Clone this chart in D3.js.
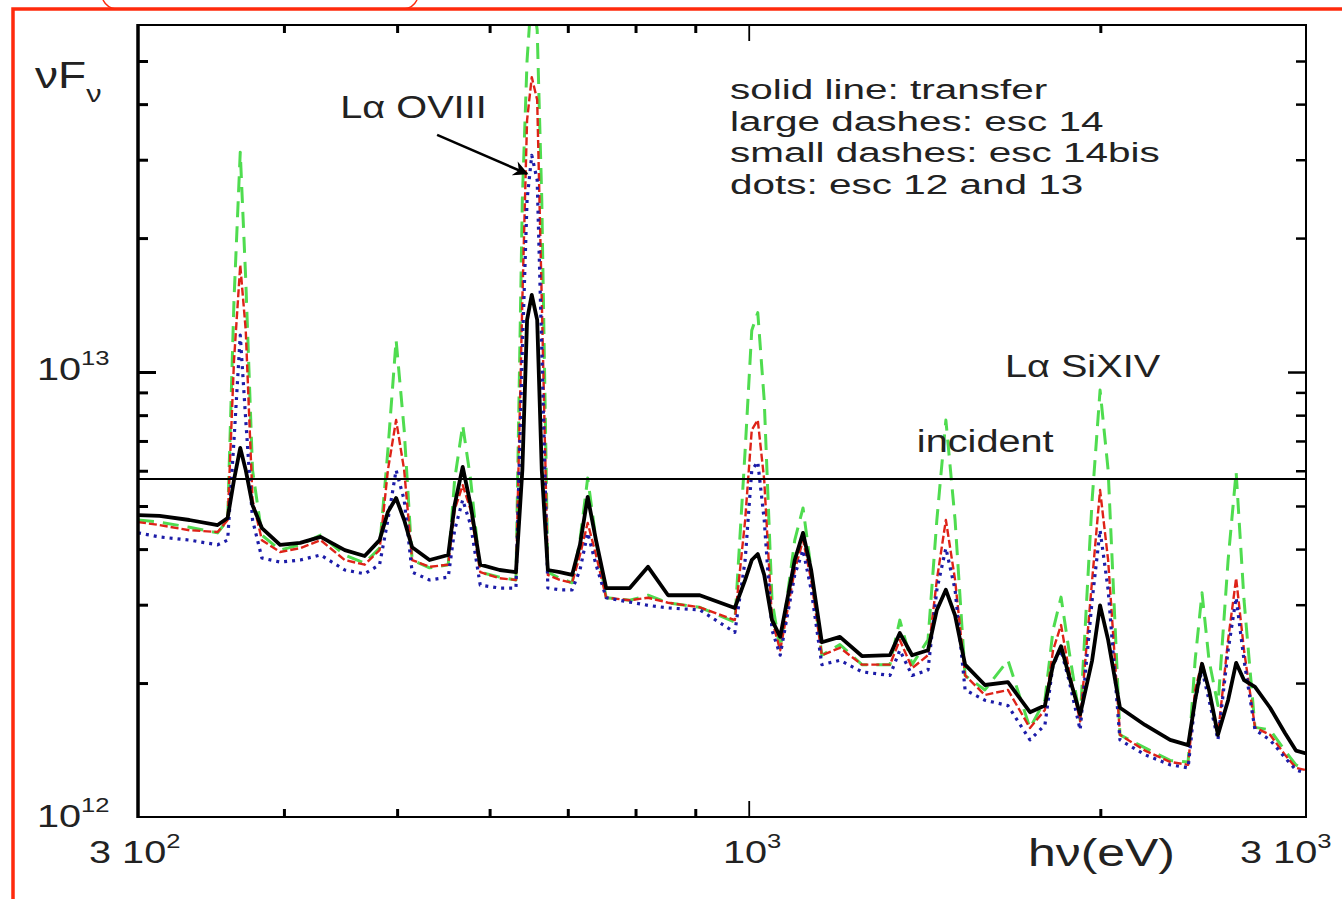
<!DOCTYPE html>
<html>
<head>
<meta charset="utf-8">
<script src="https://cdnjs.cloudflare.com/ajax/libs/d3/7.8.5/d3.min.js"></script>
<style>
  body { margin: 0; background: #fff; }
  svg { display: block; font-family: "Liberation Sans", Arial, sans-serif; }
</style>
</head>
<body>
<svg id="chart" width="1342" height="899"></svg>
<script>
// photon energy h nu (eV), shared grid for every spectrum
const energy = [300, 313, 332, 351, 358, 362.5, 367, 371, 376, 383, 397, 413, 430, 451, 469, 483,
  491, 499, 507, 515, 533, 553, 560, 569, 578, 589, 612, 632, 640, 646, 652, 659, 665, 673, 689,
  706, 717, 728, 740, 755, 791, 820, 853, 908, 973, 993, 1006, 1018, 1031, 1047, 1064, 1095, 1113,
  1131, 1155, 1197, 1250, 1321, 1347, 1380, 1424, 1449, 1475, 1502, 1532, 1593, 1667, 1741, 1793,
  1822, 1851, 1880, 1922, 1968, 1999, 2031, 2079, 2184, 2295, 2378, 2411, 2444, 2478, 2522, 2573,
  2614, 2655, 2713, 2795, 2878, 2941, 3000];

// nu F_nu in units of 1e12
const transfer = [4.77, 4.75, 4.65, 4.53, 4.70, 5.72, 6.75, 6.02, 5.02, 4.46, 4.09, 4.13, 4.26, 3.98,
  3.86, 4.19, 4.85, 5.21, 4.65, 4.04, 3.78, 3.88, 5.02, 6.12, 5.02, 3.69, 3.59, 3.55, 6.02, 13.1,
  14.9, 13.1, 6.02, 3.59, 3.55, 3.50, 4.09, 5.24, 4.19, 3.27, 3.27, 3.65, 3.15, 3.15, 2.95, 3.41,
  3.78, 3.90, 3.50, 2.77, 2.54, 3.78, 4.35, 3.59, 2.47, 2.54, 2.30, 2.31, 2.59, 2.31, 2.37, 2.92,
  3.24, 2.84, 2.20, 1.98, 2.01, 1.72, 1.78, 2.20, 2.42, 2.08, 1.70, 2.25, 2.99, 2.50, 1.76, 1.61,
  1.49, 1.45, 1.83, 2.21, 1.93, 1.53, 1.83, 2.22, 2.03, 1.96, 1.76, 1.545, 1.41, 1.39];

const esc14 = [4.65, 4.60, 4.48, 4.35, 4.65, 14.5, 31.2, 16.1, 6.02, 4.30, 3.98, 4.09, 4.30, 3.88,
  3.72, 4.02, 6.68, 11.8, 7.41, 3.78, 3.63, 3.69, 5.72, 7.60, 5.72, 3.55, 3.46, 3.41, 24.4, 50.2,
  72.0, 58.7, 24.4, 3.55, 3.44, 3.36, 4.19, 5.78, 4.19, 3.11, 3.07, 3.15, 3.03, 2.96, 2.74, 6.68,
  12.4, 13.6, 8.65, 3.07, 2.37, 4.19, 4.95, 3.59, 2.31, 2.44, 2.20, 2.20, 2.77, 2.20, 2.50, 4.65,
  7.80, 4.65, 2.08, 1.93, 2.25, 1.585, 1.83, 2.63, 3.12, 2.37, 1.65, 5.16, 9.11, 6.02, 1.53, 1.43,
  1.34, 1.33, 2.25, 3.19, 2.25, 1.78, 3.78, 5.96, 3.07, 1.59, 1.57, 1.41, 1.31, 1.275];

const esc14bis = [4.60, 4.53, 4.41, 4.37, 4.65, 10.6, 17.4, 12.4, 5.16, 4.19, 3.94, 4.02, 4.19, 3.78,
  3.69, 3.98, 6.02, 7.80, 6.02, 3.78, 3.65, 3.69, 4.90, 5.57, 4.90, 3.55, 3.44, 3.41, 14.5, 36.8,
  46.0, 40.9, 14.5, 3.50, 3.41, 3.36, 3.88, 4.58, 3.88, 3.11, 3.07, 3.11, 3.03, 2.96, 2.77, 4.65,
  7.41, 7.80, 5.72, 2.77, 2.37, 3.59, 4.19, 3.41, 2.31, 2.40, 2.20, 2.20, 2.50, 2.16, 2.31, 3.41,
  4.65, 3.41, 2.08, 1.88, 1.93, 1.585, 1.74, 2.37, 2.70, 2.14, 1.64, 3.41, 5.43, 3.78, 1.53, 1.41,
  1.33, 1.31, 1.93, 2.23, 1.93, 1.53, 2.50, 3.44, 2.37, 1.59, 1.53, 1.38, 1.29, 1.275];

const esc12_13 = [4.35, 4.26, 4.19, 4.09, 4.19, 7.03, 12.1, 7.80, 4.65, 3.82, 3.74, 3.78, 3.88, 3.59,
  3.52, 3.69, 4.65, 6.02, 5.16, 3.55, 3.41, 3.46, 4.41, 5.16, 4.53, 3.32, 3.27, 3.27, 11.2, 24.4,
  30.7, 27.0, 11.2, 3.27, 3.24, 3.24, 3.59, 4.35, 3.69, 3.11, 3.04, 2.99, 2.95, 2.92, 2.60, 3.78,
  6.02, 6.28, 4.65, 2.63, 2.31, 3.50, 3.98, 3.24, 2.20, 2.25, 2.12, 2.08, 2.37, 2.08, 2.14, 3.24,
  4.02, 3.24, 1.93, 1.83, 1.78, 1.49, 1.61, 2.20, 2.37, 2.03, 1.57, 3.07, 4.41, 3.24, 1.49, 1.38,
  1.31, 1.29, 1.83, 2.14, 1.83, 1.49, 2.37, 3.11, 2.25, 1.57, 1.49, 1.36, 1.275, 1.256];

const incidentFlux = 5.75;

const legendLines = [
  'solid line: transfer',
  'large dashes: esc 14',
  'small dashes: esc 14bis',
  'dots: esc 12 and 13',
];

const xMinorTicks = [400, 500, 600, 700, 800, 900, 2000];
const xMajorTicks = [1000];
const yMinorTicks = [2, 3, 4, 5, 6, 7, 8, 9, 20, 30, 40, 50];
const yMajorTicks = [10];

const getStroke = (mapping => (key => mapping[key]))({
  transfer: '#000000',
  esc14: '#4fdc4f',
  esc14bis: '#de2318',
  esc12_13: '#1c1ca8',
});
const getWidth = (mapping => (key => mapping[key]))({
  transfer: 3.8,
  esc14: 3,
  esc14bis: 2.4,
  esc12_13: 3.2,
});
const getDash = (mapping => (key => mapping[key]))({
  transfer: null,
  esc14: '16,9',
  esc14bis: '8,3',
  esc12_13: '3,5',
});

const series = { transfer, esc14, esc14bis, esc12_13 };
const drawOrder = ['esc14', 'esc14bis', 'esc12_13', 'transfer'];

const svg = d3.select('#chart');
const TEXT_STRETCH = 1.28; // the source figure is stretched sideways

const x = d3.scaleLog().domain([300, 3000]).range([138, 1306]);
const y = d3.scaleLog().domain([1, 60.24]).range([817, 25]);
const [x0, x1] = x.range();
const [y0, y1] = y.range();

// red slide frame
svg.append('path')
  .attr('d', `M13,899V9H1342`)
  .attr('fill', 'none').attr('stroke', '#ff2a0c').attr('stroke-width', 3.5);
svg.append('path')
  .attr('d', 'M103,0Q107,8 116,9M417,0Q413,8 404,9')
  .attr('fill', 'none').attr('stroke', '#ff2a0c').attr('stroke-width', 1.5);

svg.append('clipPath').attr('id', 'plot-clip')
  .append('rect').attr('x', x0).attr('y', y1).attr('width', x1 - x0).attr('height', y0 - y1);

const plot = svg.append('g').attr('clip-path', 'url(#plot-clip)');

const line = d3.line()
  .x((d, i) => x(energy[i]))
  .y(d => y(d));

drawOrder.forEach((key) => {
  plot.append('path')
    .datum(series[key])
    .attr('class', `line-${key}`)
    .attr('d', line)
    .attr('fill', 'none')
    .attr('stroke', getStroke(key))
    .attr('stroke-width', getWidth(key))
    .attr('stroke-dasharray', getDash(key))
    .attr('stroke-linejoin', 'round');
});

// incident continuum
svg.append('line')
  .attr('x1', x0).attr('x2', x1)
  .attr('y1', y(incidentFlux)).attr('y2', y(incidentFlux))
  .attr('stroke', '#000').attr('stroke-width', 2);

// frame
svg.append('rect')
  .attr('x', x0).attr('y', y1).attr('width', x1 - x0).attr('height', y0 - y1)
  .attr('fill', 'none').attr('stroke', '#000').attr('stroke-width', 2);
svg.append('line')
  .attr('x1', x0).attr('x2', x0).attr('y1', y1 - 1).attr('y2', y0 + 1)
  .attr('stroke', '#000').attr('stroke-width', 3.5);

// inward ticks on all four sides
const ticks = (axis, values, size, width) => (g) => {
  g.call(axis.tickValues(values).tickSize(-size).tickSizeOuter(0).tickFormat(''));
  g.select('.domain').remove();
  g.selectAll('.tick line').attr('stroke-width', width);
};
svg.append('g').attr('transform', `translate(0,${y0})`).call(ticks(d3.axisBottom(x), xMinorTicks, 8, 3));
svg.append('g').attr('transform', `translate(0,${y0})`).call(ticks(d3.axisBottom(x), xMajorTicks, 16, 1.8));
svg.append('g').attr('transform', `translate(0,${y1})`).call(ticks(d3.axisTop(x), xMinorTicks, 8, 3));
svg.append('g').attr('transform', `translate(0,${y1})`).call(ticks(d3.axisTop(x), xMajorTicks, 16, 1.8));
svg.append('g').attr('transform', `translate(${x0},0)`).call(ticks(d3.axisLeft(y), yMinorTicks, 10, 3));
svg.append('g').attr('transform', `translate(${x0},0)`).call(ticks(d3.axisLeft(y), yMajorTicks, 18, 3));
svg.append('g').attr('transform', `translate(${x1},0)`).call(ticks(d3.axisRight(y), yMinorTicks, 10, 2.5));
svg.append('g').attr('transform', `translate(${x1},0)`).call(ticks(d3.axisRight(y), yMajorTicks, 18, 2.5));

// text helper: parts = [[text, shift, size], ...]
const label = (px, py, parts, size, stretch = TEXT_STRETCH, color = '#222') => {
  const t = svg.append('text')
    .attr('transform', `translate(${px},${py}) scale(${stretch},1)`)
    .attr('font-size', size)
    .attr('fill', color);
  let prev = 0;
  parts.forEach(([txt, shift = 0, fs = size]) => {
    t.append('tspan').attr('dy', shift - prev).attr('font-size', fs).text(txt);
    prev = shift;
  });
  return t;
};

label(35, 88, [['\u03BDF'], ['\u03BD', 14, 24]], 36);
label(37, 380, [['10'], ['13', -15, 20]], 31);
label(37, 827, [['10'], ['12', -15, 20]], 31);
label(89, 863, [['3 10'], ['2', -15, 20]], 31);
label(723, 863, [['10'], ['3', -15, 20]], 31);
label(1240, 863, [['3 10'], ['3', -15, 20]], 31);
label(1028, 866, [['h\u03BD(eV)']], 39);

legendLines.forEach((txt, i) => label(730, 99 + i * 31.7, [[txt]], 27, 1.5));

label(x(447), y(37.2), [['L\u03B1 OVIII']], 31);
label(x(1657), y(9.74), [['L\u03B1 SiXIV']], 31);
label(x(1393), y(6.61), [['incident']], 31);

// arrow to the O VIII Lyman alpha line
svg.append('defs').append('marker')
  .attr('id', 'arrow-head')
  .attr('viewBox', '0 0 10 10')
  .attr('refX', 9).attr('refY', 5)
  .attr('markerWidth', 7).attr('markerHeight', 6)
  .attr('markerUnits', 'strokeWidth')
  .attr('orient', 'auto')
  .append('path').attr('d', 'M0,0L10,5L0,10L3,5Z').attr('fill', '#000');
svg.append('line')
  .attr('x1', x(541)).attr('y1', y(34.1))
  .attr('x2', x(646)).attr('y2', y(27.9))
  .attr('stroke', '#000').attr('stroke-width', 2.5)
  .attr('marker-end', 'url(#arrow-head)');
</script>
</body>
</html>
